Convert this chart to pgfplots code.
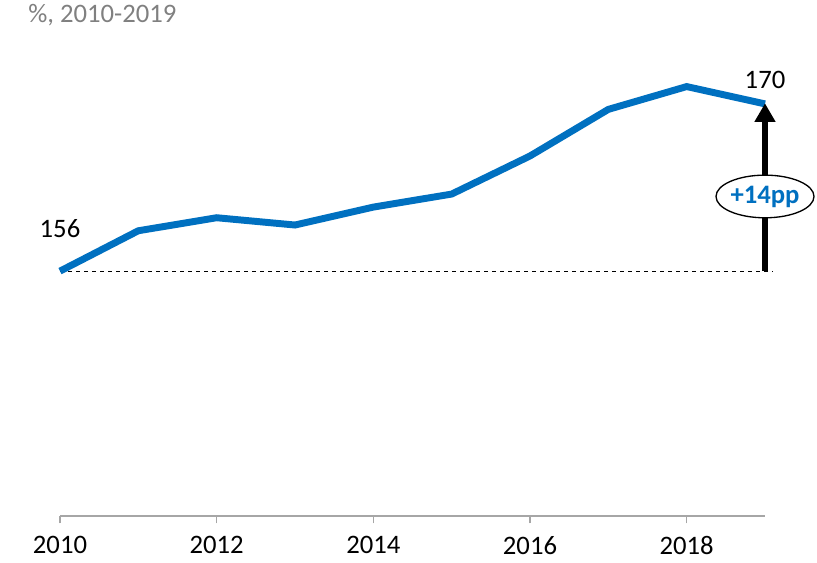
\documentclass[border=0pt]{standalone}
\usepackage{pgfplots}
\pgfplotsset{compat=1.18}
\usepackage{fontspec}
\setmainfont{Carlito}
\usetikzlibrary{arrows.meta,shapes.geometric}
\definecolor{mainblue}{RGB}{0,112,192}
\definecolor{axgray}{RGB}{166,166,166}
\definecolor{titlegray}{RGB}{128,128,128}
\begin{document}
\begin{tikzpicture}[x=1pt,y=1pt]
\path[use as bounding box] (-45pt,-34.5pt) rectangle (567.75pt,387pt);
\begin{axis}[
  at={(0,0)}, anchor=south west,
  scale only axis,
  width=528.75pt, height=327pt,
  xmin=2010, xmax=2019,
  ymin=135.5, ymax=172,
  clip=false,
  axis x line=bottom,
  axis y line=none,
  x axis line style={-, draw=axgray, line width=1pt},
  xtick={2010,2012,2014,2016,2018},
  xticklabels={2010,2012,2014,2016,2018},
  tick align=outside,
  major tick length=5.5pt,
  x tick style={draw=axgray, line width=1pt},
  ytick=\empty,
  xticklabel style={font=\fontsize{20}{24}\selectfont, black, inner sep=0pt, yshift=-9.5pt},
]
\addplot[black, line width=0.8pt, dash pattern=on 3pt off 3pt, forget plot] coordinates {(2010,156) (2019.1,156)};
\addplot[mainblue, line width=5.2pt, line join=miter, mark=none] coordinates {
(2010,156) (2011,159.38) (2012,160.47) (2013,159.86) (2014,161.36)
(2015,162.45) (2016,165.64) (2017,169.54) (2018,171.45) (2019,170)};
\draw[black, line width=4.5pt, -{Triangle[width=15pt,length=14pt]}] (axis cs:2019,156) -- (axis cs:2019,170.05);
\node[draw=black, line width=1pt, ellipse, fill=white, minimum width=73.5pt, minimum height=32pt, inner sep=0pt,
  text=mainblue, font=\fontsize{20}{24}\selectfont\bfseries] at (axis cs:2019,162.25) {+14pp};
\node[font=\fontsize{20}{24}\selectfont] at (axis cs:2010,159.6) {156};
\node[font=\fontsize{20}{24}\selectfont] at (axis cs:2019,172.0) {170};
\end{axis}
\node[anchor=west, text=titlegray, font=\fontsize{20}{24}\selectfont, inner sep=0pt] at (-24pt,375.75pt) {\%, 2010-2019};
\end{tikzpicture}
\end{document}
